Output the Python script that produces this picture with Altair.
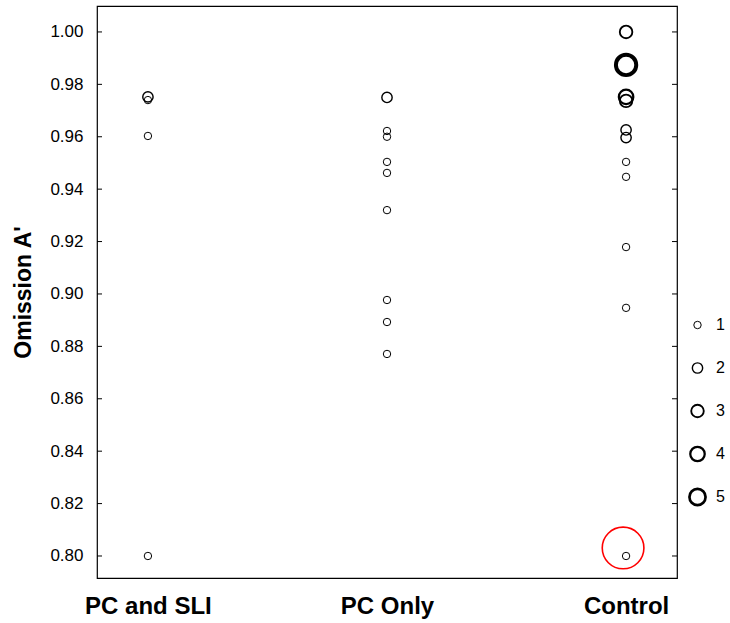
import altair as alt
import pandas as pd

categories = ["PC and SLI", "PC Only", "Control"]

sli_values = [0.9752, 0.9740, 0.9603, 0.800]
sli_counts = [2, 1, 1, 1]

pco_values = [0.975, 0.9622, 0.9600, 0.9504, 0.9462, 0.932, 0.8977, 0.8893, 0.8771]
pco_counts = [2, 1, 1, 1, 1, 1, 1, 1, 1]

ctl_values = [1.000, 0.9874, 0.9752, 0.9737, 0.9626, 0.9597, 0.9504, 0.9447, 0.9179, 0.8947, 0.800]
ctl_counts = [3, 8, 4, 3, 2, 2, 1, 1, 1, 1, 1]

tick_values = [0.80, 0.82, 0.84, 0.86, 0.88, 0.90, 0.92, 0.94, 0.96, 0.98, 1.00]
legend_values = [1, 2, 3, 4, 5]

highlight_group = ["Control"]
highlight_value = [0.800]

df = pd.DataFrame({
    "group": ["PC and SLI"] * len(sli_values) + ["PC Only"] * len(pco_values) + ["Control"] * len(ctl_values),
    "value": sli_values + pco_values + ctl_values,
    "count": sli_counts + pco_counts + ctl_counts,
})
ticks_df = pd.DataFrame({"value": tick_values})
hl_df = pd.DataFrame({"group": highlight_group, "value": highlight_value})

FONT = "Liberation Sans"
W, H = 580, 572

xscale = alt.Scale(type="point", domain=categories, padding=0.213)
yscale = alt.Scale(domain=[0.7916, 1.0099], nice=False, zero=False)

leg = alt.Legend(
    orient="none", legendX=591, legendY=309, title=None, values=legend_values,
    labelFont=FONT, labelFontSize=16, labelColor="black", labelOffset=9,
    rowPadding=23, clipHeight=20, symbolStrokeColor="black", symbolType="circle",
)

points = alt.Chart(df).mark_point(shape="circle", filled=False, color="black", opacity=1).encode(
    x=alt.X("group:N", scale=xscale, axis=alt.Axis(
        title=None, labelAngle=0, ticks=False, domain=False, grid=False,
        labelFont=FONT, labelFontSize=24, labelFontWeight="bold", labelColor="black",
        labelPadding=16)),
    y=alt.Y("value:Q", scale=yscale, axis=alt.Axis(
        title="Omission A'", values=tick_values, format=".2f", ticks=False, domain=False,
        grid=False, labelFont=FONT, labelFontSize=17, labelColor="black", labelPadding=14,
        titleFont=FONT, titleFontSize=23, titleFontWeight="bold", titleColor="black",
        titlePadding=14)),
    size=alt.Size("count:Q", scale=alt.Scale(domain=[1, 5], range=[55, 260], zero=False), legend=leg),
    strokeWidth=alt.StrokeWidth("count:Q", scale=alt.Scale(domain=[1, 5], range=[1.0, 2.7], zero=False), legend=leg),
)

left_ticks = alt.Chart(ticks_df).mark_rule(color="black", strokeWidth=1).encode(
    y=alt.Y("value:Q", scale=yscale), x=alt.value(0), x2=alt.value(5))
right_ticks = alt.Chart(ticks_df).mark_rule(color="black", strokeWidth=1).encode(
    y=alt.Y("value:Q", scale=yscale), x=alt.value(W - 5), x2=alt.value(W))

highlight = alt.Chart(hl_df).mark_point(
    shape="circle", filled=False, color="red", size=1735, strokeWidth=1.6,
    xOffset=-3, yOffset=-8, opacity=1).encode(
    x=alt.X("group:N", scale=xscale), y=alt.Y("value:Q", scale=yscale))

chart = alt.layer(left_ticks, right_ticks, points, highlight).properties(
    width=W, height=H,
    autosize="none",
    padding={"left": 97, "top": 6, "right": 53, "bottom": 45},
    background="white",
).configure_view(stroke="black", strokeWidth=1.2)

chart.save("out.html", embed_options={"renderer": "svg", "actions": False})
